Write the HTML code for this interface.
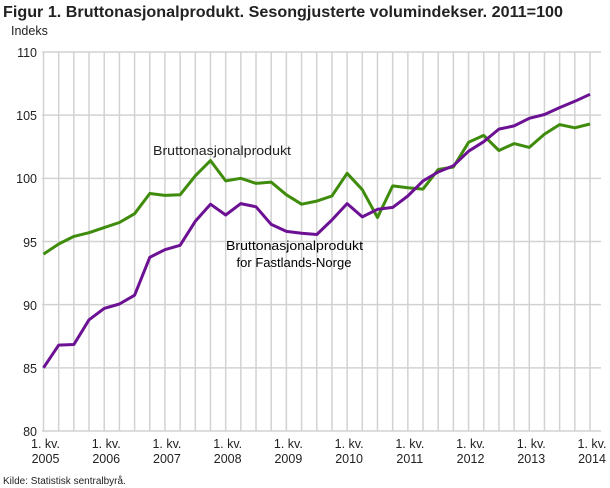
<!DOCTYPE html>
<html><head><meta charset="utf-8"><style>
html,body{margin:0;padding:0;background:#fff;width:610px;height:488px;overflow:hidden}
svg{display:block;font-family:"Liberation Sans",sans-serif}
</style></head><body>
<svg width="610" height="488" viewBox="0 0 610 488" xmlns="http://www.w3.org/2000/svg">
<text x="3" y="17" font-size="16" font-weight="bold" fill="#222" textLength="560" lengthAdjust="spacingAndGlyphs">Figur 1. Bruttonasjonalprodukt. Sesongjusterte volumindekser. 2011=100</text>
<text x="11" y="35" font-size="12.5" fill="#222">Indeks</text>
<g id="grid" stroke="#d2d2d2" stroke-width="1.5"></g>
<g font-size="12.5" fill="#222" text-anchor="end">
<text x="37" y="57">110</text><text x="37" y="120">105</text><text x="37" y="183">100</text>
<text x="37" y="247">95</text><text x="37" y="310">90</text><text x="37" y="373">85</text><text x="37" y="436">80</text>
</g>
<g id="xl" font-size="12.5" fill="#222" text-anchor="middle"></g>
<polyline id="g" fill="none" stroke="#3f8c0c" stroke-width="3" stroke-linejoin="round"/>
<polyline id="p" fill="none" stroke="#6c1193" stroke-width="3" stroke-linejoin="round"/>
<text x="153" y="155" font-size="13" fill="#222" textLength="138" lengthAdjust="spacingAndGlyphs">Bruttonasjonalprodukt</text>
<text x="226" y="250" font-size="13" fill="#000" textLength="137" lengthAdjust="spacingAndGlyphs">Bruttonasjonalprodukt</text>
<text x="294" y="267" font-size="13" fill="#000" text-anchor="middle">for Fastlands-Norge</text>
<text x="3" y="484" font-size="10" fill="#222">Kilde: Statistisk sentralbyrå.</text>
</svg>
<script>
var x0=43.5,dx=(590-43.5)/36;
function Y(v){return 52+(110-v)*12.633;}
var ns="http://www.w3.org/2000/svg",gr=document.getElementById('grid'),xl=document.getElementById('xl');
for(var v=80;v<=110;v+=5){var l=document.createElementNS(ns,'line');l.setAttribute('x1',42);l.setAttribute('x2',601);l.setAttribute('y1',Y(v));l.setAttribute('y2',Y(v));gr.appendChild(l);}
for(var i=0;i<=36;i++){var l=document.createElementNS(ns,'line');var x=x0+i*dx;l.setAttribute('x1',x);l.setAttribute('x2',x);l.setAttribute('y1',52);l.setAttribute('y2',431);gr.appendChild(l);
if(i%4==0){var t=document.createElementNS(ns,'text');t.setAttribute('x',x+2);t.setAttribute('y',448);t.textContent='1. kv.';xl.appendChild(t);
var t2=document.createElementNS(ns,'text');t2.setAttribute('x',x+2);t2.setAttribute('y',463);t2.textContent=2005+i/4;xl.appendChild(t2);}}
var G=[94.0,94.8,95.4,95.7,96.1,96.5,97.2,98.8,98.65,98.7,100.2,101.4,99.8,100.0,99.6,99.7,98.7,97.95,98.2,98.6,100.4,99.1,96.9,99.4,99.25,99.15,100.7,100.9,102.85,103.4,102.2,102.75,102.45,103.5,104.25,104.0,104.3];
var P=[85.0,86.8,86.85,88.8,89.7,90.05,90.75,93.75,94.35,94.7,96.6,97.95,97.1,98.0,97.75,96.35,95.8,95.65,95.55,96.7,98.0,96.95,97.55,97.7,98.6,99.8,100.5,101.0,102.15,102.9,103.9,104.15,104.75,105.05,105.6,106.1,106.65];
function pts(a){return a.map(function(v,i){return (x0+i*dx).toFixed(1)+','+Y(v).toFixed(1)}).join(' ');}
document.getElementById('g').setAttribute('points',pts(G));
document.getElementById('p').setAttribute('points',pts(P));
</script>
</body></html>
